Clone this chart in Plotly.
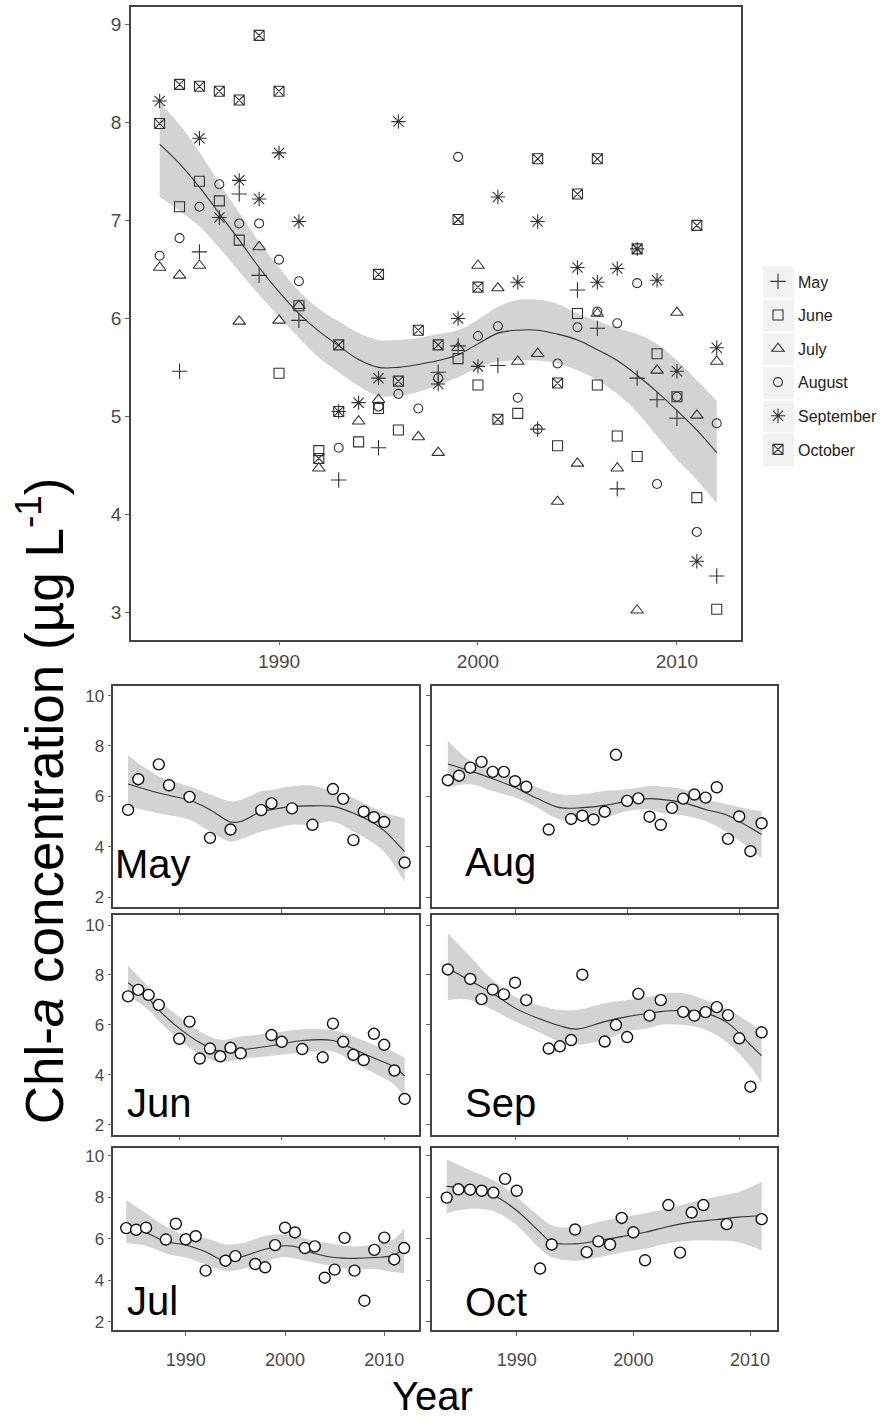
import plotly.graph_objects as go

# ---------------- monthly chlorophyll-a series ----------------
may_year = [1985, 1986, 1988, 1989, 1991, 1993, 1995, 1998, 1999, 2001, 2003, 2005, 2006, 2007, 2008, 2009, 2010, 2012]
may_chl = [5.46, 6.68, 7.27, 6.44, 5.98, 4.35, 4.68, 5.45, 5.72, 5.52, 4.87, 6.29, 5.90, 4.26, 5.39, 5.17, 4.98, 3.37]

jun_year = [1985, 1986, 1987, 1988, 1990, 1991, 1992, 1993, 1994, 1995, 1996, 1999, 2000, 2002, 2004, 2005, 2006, 2007, 2008, 2009, 2010, 2011, 2012]
jun_chl = [7.14, 7.40, 7.20, 6.80, 5.44, 6.13, 4.65, 5.05, 4.74, 5.08, 4.86, 5.59, 5.32, 5.03, 4.70, 6.05, 5.32, 4.80, 4.59, 5.64, 5.20, 4.17, 3.03]

jul_year = [1984, 1985, 1986, 1988, 1989, 1990, 1991, 1992, 1994, 1995, 1997, 1998, 1999, 2000, 2001, 2002, 2003, 2004, 2005, 2006, 2007, 2008, 2009, 2010, 2011, 2012]
jul_chl = [6.52, 6.44, 6.54, 5.97, 6.73, 5.98, 6.13, 4.47, 4.95, 5.17, 4.79, 4.63, 5.70, 6.54, 6.31, 5.56, 5.64, 4.13, 4.52, 6.05, 4.47, 3.02, 5.47, 6.06, 5.01, 5.56]

aug_year = [1984, 1985, 1986, 1987, 1988, 1989, 1990, 1991, 1993, 1995, 1996, 1997, 1998, 1999, 2000, 2001, 2002, 2003, 2004, 2005, 2006, 2007, 2008, 2009, 2010, 2011, 2012]
aug_chl = [6.64, 6.82, 7.14, 7.37, 6.97, 6.97, 6.60, 6.38, 4.68, 5.10, 5.23, 5.08, 5.39, 7.65, 5.82, 5.92, 5.19, 4.87, 5.54, 5.91, 6.07, 5.95, 6.36, 4.31, 5.20, 3.82, 4.93]

sep_year = [1984, 1986, 1987, 1988, 1989, 1990, 1991, 1993, 1994, 1995, 1996, 1998, 1999, 2000, 2001, 2002, 2003, 2005, 2006, 2007, 2008, 2009, 2010, 2011, 2012]
sep_chl = [8.22, 7.84, 7.03, 7.41, 7.22, 7.69, 6.99, 5.05, 5.14, 5.39, 8.01, 5.33, 6.00, 5.51, 7.24, 6.37, 6.99, 6.52, 6.37, 6.51, 6.71, 6.39, 5.46, 3.52, 5.70]

oct_year = [1984, 1985, 1986, 1987, 1988, 1989, 1990, 1992, 1993, 1995, 1996, 1997, 1998, 1999, 2000, 2001, 2003, 2004, 2005, 2006, 2008, 2011]
oct_chl = [7.99, 8.39, 8.37, 8.32, 8.23, 8.89, 8.32, 4.57, 5.73, 6.45, 5.36, 5.88, 5.73, 7.01, 6.32, 4.97, 7.63, 5.34, 7.27, 7.63, 6.71, 6.95]

# ---------------- smoothed trends with confidence bands ----------------
all_fit_year = [1984, 1985, 1986, 1987, 1988, 1989, 1990, 1991, 1992, 1993, 1994, 1995, 1996, 1997, 1998,
                1999, 2000, 2001, 2002, 2003, 2004, 2005, 2006, 2007, 2008, 2009, 2010, 2011, 2012]
all_fit = [7.78, 7.58, 7.34, 7.07, 6.80, 6.52, 6.27, 6.05, 5.87, 5.72, 5.58, 5.50, 5.50, 5.53, 5.57,
           5.63, 5.74, 5.85, 5.88, 5.88, 5.84, 5.78, 5.68, 5.57, 5.42, 5.25, 5.06, 4.86, 4.63]
all_lo = [7.24, 7.10, 6.94, 6.72, 6.48, 6.24, 6.02, 5.80, 5.60, 5.45, 5.31, 5.21, 5.21, 5.25, 5.32,
          5.40, 5.50, 5.56, 5.57, 5.57, 5.54, 5.47, 5.37, 5.23, 5.04, 4.80, 4.56, 4.35, 4.11]
all_hi = [8.20, 7.98, 7.70, 7.38, 7.08, 6.78, 6.52, 6.28, 6.10, 5.97, 5.85, 5.78, 5.78, 5.80, 5.84,
          5.88, 5.99, 6.12, 6.19, 6.19, 6.15, 6.05, 5.97, 5.90, 5.84, 5.74, 5.57, 5.37, 5.16]

may_fit_year = [1985, 1988, 1991, 1993, 1995, 1996, 1998, 1999, 2001, 2003, 2005, 2007, 2009, 2010, 2012]
may_fit = [6.49, 6.13, 5.84, 5.47, 4.98, 5.00, 5.40, 5.47, 5.60, 5.62, 5.60, 5.33, 4.93, 4.64, 3.80]
may_lo = [5.60, 5.33, 5.07, 4.60, 4.20, 4.30, 4.60, 4.70, 4.87, 4.87, 5.00, 4.60, 4.13, 3.80, 2.60]
may_hi = [7.63, 6.80, 6.40, 6.07, 5.80, 5.85, 6.20, 6.25, 6.40, 6.43, 6.20, 5.93, 5.53, 5.35, 5.13]

jun_fit_year = [1985, 1987, 1988, 1990, 1992, 1994, 1996, 1999, 2002, 2005, 2007, 2009, 2011, 2012]
jun_fit = [7.69, 7.05, 6.59, 5.86, 5.29, 4.93, 5.00, 5.16, 5.37, 5.37, 5.03, 4.67, 4.31, 3.94]
jun_lo = [7.18, 6.59, 6.15, 5.40, 4.80, 4.50, 4.63, 4.76, 4.89, 4.93, 4.50, 4.07, 3.60, 3.08]
jun_hi = [8.37, 7.51, 7.00, 6.32, 5.73, 5.40, 5.53, 5.66, 5.82, 5.79, 5.53, 5.20, 4.90, 4.67]

jul_fit_year = [1984, 1986, 1988, 1990, 1992, 1994, 1996, 1998, 2000, 2001, 2003, 2005, 2007, 2009, 2011, 2012]
jul_fit = [6.63, 6.30, 5.87, 5.71, 5.38, 4.94, 5.19, 5.50, 5.67, 5.63, 5.30, 5.10, 5.06, 5.10, 5.22, 5.62]
jul_lo = [5.79, 5.67, 5.30, 5.10, 4.78, 4.46, 4.58, 4.90, 5.14, 5.05, 4.85, 4.66, 4.55, 4.55, 4.40, 4.34]
jul_hi = [7.87, 7.23, 6.59, 6.19, 6.03, 5.74, 5.83, 6.15, 6.22, 6.15, 5.90, 5.74, 5.63, 5.74, 6.00, 6.51]

aug_fit_year = [1984, 1986, 1988, 1990, 1992, 1994, 1996, 1998, 2000, 2002, 2003, 2005, 2007, 2009, 2011, 2012]
aug_fit = [7.28, 7.01, 6.70, 6.35, 5.91, 5.55, 5.55, 5.64, 5.81, 5.91, 5.88, 5.75, 5.48, 5.24, 4.75, 4.48]
aug_lo = [6.35, 6.48, 6.21, 5.95, 5.55, 5.08, 5.08, 5.15, 5.42, 5.48, 5.35, 5.24, 5.02, 4.55, 3.89, 3.55]
aug_hi = [8.21, 7.41, 7.08, 6.74, 6.35, 6.08, 6.08, 6.21, 6.28, 6.41, 6.39, 6.28, 5.88, 5.68, 5.48, 5.42]

sep_fit_year = [1984, 1986, 1988, 1990, 1992, 1994, 1995.5, 1998, 2000, 2002, 2003, 2005, 2007, 2009, 2011, 2012]
sep_fit = [8.27, 7.77, 7.27, 6.67, 6.27, 5.96, 5.83, 6.13, 6.33, 6.47, 6.53, 6.57, 6.47, 6.07, 5.20, 4.76]
sep_lo = [7.00, 7.00, 6.60, 6.13, 5.73, 5.33, 5.20, 5.40, 5.73, 5.87, 6.00, 6.00, 5.80, 5.27, 4.33, 3.67]
sep_hi = [9.67, 8.73, 7.80, 7.13, 6.80, 6.60, 6.60, 6.87, 7.00, 7.13, 7.24, 7.27, 7.00, 6.60, 6.07, 5.73]

oct_fit_year = [1984, 1986, 1988, 1990, 1992, 1993, 1995, 1997, 1999, 2001, 2003, 2005, 2007, 2009, 2011]
oct_fit = [8.53, 8.42, 8.10, 7.37, 6.32, 5.84, 5.76, 5.92, 6.11, 6.32, 6.60, 6.81, 6.92, 7.05, 7.13]
oct_lo = [7.24, 7.45, 7.34, 6.65, 5.52, 5.11, 4.95, 5.11, 5.35, 5.52, 5.79, 5.92, 5.92, 5.84, 5.44]
oct_hi = [9.82, 9.31, 8.82, 8.02, 7.05, 6.65, 6.56, 6.81, 7.05, 7.24, 7.45, 7.77, 8.02, 8.26, 8.74]

month_names = ["May", "June", "July", "August", "September", "October"]
month_short = ["May", "Jun", "Jul", "Aug", "Sep", "Oct"]
year_ticks = [1990, 2000, 2010]

# ---------------- styling ----------------
W, H = 892, 1426
FONT = "Liberation Sans, Arial, sans-serif"
INK = "#333333"
TICK_INK = "#4a4a4a"
BAND = "#D3D3D3"

def xdom(left, right):
    return [left / W, right / W]

def ydom(top, bottom):
    return [1 - bottom / H, 1 - top / H]

series = {
    "May": (may_year, may_chl, may_fit_year, may_fit, may_lo, may_hi),
    "Jun": (jun_year, jun_chl, jun_fit_year, jun_fit, jun_lo, jun_hi),
    "Jul": (jul_year, jul_chl, jul_fit_year, jul_fit, jul_lo, jul_hi),
    "Aug": (aug_year, aug_chl, aug_fit_year, aug_fit, aug_lo, aug_hi),
    "Sep": (sep_year, sep_chl, sep_fit_year, sep_fit, sep_lo, sep_hi),
    "Oct": (oct_year, oct_chl, oct_fit_year, oct_fit, oct_lo, oct_hi),
}

symbols = {
    "May": ("cross-thin-open", 11),
    "Jun": ("square-open", 10),
    "Jul": ("triangle-up-open", 11),
    "Aug": ("circle-open", 9),
    "Sep": ("asterisk-open", 12),
    "Oct": ("square-x-open", 10),
}

fig = go.Figure()

def add_band(xa, ya, fx, lo, hi, fit):
    fig.add_trace(go.Scatter(x=fx, y=lo, mode="lines", line=dict(width=0, shape="spline"),
                             hoverinfo="skip", showlegend=False, xaxis=xa, yaxis=ya))
    fig.add_trace(go.Scatter(x=fx, y=hi, mode="lines", line=dict(width=0, shape="spline"),
                             fill="tonexty", fillcolor=BAND, hoverinfo="skip",
                             showlegend=False, xaxis=xa, yaxis=ya))
    fig.add_trace(go.Scatter(x=fx, y=fit, mode="lines",
                             line=dict(color=INK, width=1.1, shape="spline"),
                             hoverinfo="skip", showlegend=False, xaxis=xa, yaxis=ya))

# ---- pooled panel ----
add_band("x", "y", all_fit_year, all_lo, all_hi, all_fit)
for short, full in zip(month_short, month_names):
    yrs, vals = series[short][0], series[short][1]
    sym, size = symbols[short]
    fig.add_trace(go.Scatter(
        x=yrs, y=vals, mode="markers", name=full, legendgroup=full,
        marker=dict(symbol=sym, size=size, color=INK, line=dict(width=1.1, color=INK)),
        xaxis="x", yaxis="y"))

# ---- per-month panels ----
panel_order = ["May", "Aug", "Jun", "Sep", "Jul", "Oct"]
for i, short in enumerate(panel_order):
    n = i + 2
    xa, ya = f"x{n}", f"y{n}"
    yrs, vals, fx, fit, lo, hi = series[short]
    add_band(xa, ya, fx, lo, hi, fit)
    fig.add_trace(go.Scatter(
        x=yrs, y=vals, mode="markers", showlegend=False,
        marker=dict(symbol="circle", size=11, color="white", line=dict(width=1.4, color="#111111")),
        xaxis=xa, yaxis=ya))

axis_common = dict(showgrid=False, zeroline=False, showline=True, mirror=True,
                   linecolor="#444444", linewidth=1.6, ticks="outside", ticklen=4,
                   tickwidth=1, tickcolor="#666666")

layout = dict(
    width=W, height=H, margin=dict(l=0, r=0, t=0, b=0),
    paper_bgcolor="white", plot_bgcolor="white",
    font=dict(family=FONT, color=INK),
    showlegend=True,
    legend=dict(x=758 / W, y=1 - 264 / H, xanchor="left", yanchor="top",
                font=dict(family=FONT, size=16, color="#222222"),
                bgcolor="rgba(0,0,0,0)", tracegroupgap=9.8, itemsizing="trace"),
)

layout["xaxis"] = dict(axis_common, domain=xdom(131, 741), range=[1982.56, 2013.22],
                       tickvals=year_ticks, tickfont=dict(size=19, color=TICK_INK), anchor="y")
layout["yaxis"] = dict(axis_common, domain=ydom(6, 640), range=[2.72, 9.18],
                       tickvals=[3, 4, 5, 6, 7, 8, 9], tickfont=dict(size=19, color=TICK_INK), anchor="x")

left_col = (113.3, 419.0)
right_col = (431.7, 777.3)
rows = [(686, 908), (916, 1136), (1149, 1332)]
x_ranges = {
    "May": [1983.56, 2013.4], "Jun": [1983.56, 2013.4], "Jul": [1982.7, 2013.5],
    "Aug": [1982.56, 2013.4], "Sep": [1982.56, 2013.4], "Oct": [1982.71, 2012.34],
}

for i, short in enumerate(panel_order):
    n = i + 2
    row, col = divmod(i, 2)
    cx = left_col if col == 0 else right_col
    top, bottom = rows[row]
    bottom_row = row == 2
    layout[f"xaxis{n}"] = dict(axis_common, domain=xdom(*cx), range=x_ranges[short],
                               tickvals=year_ticks, showticklabels=bottom_row,
                               ticklabelstandoff=8,
                               tickfont=dict(size=18, color=TICK_INK), anchor=f"y{n}")
    layout[f"yaxis{n}"] = dict(axis_common, domain=ydom(top, bottom), range=[1.6, 10.4],
                               tickvals=[2, 4, 6, 8, 10], showticklabels=(col == 0),
                               tickfont=dict(size=17, color=TICK_INK), anchor=f"x{n}")

fig.update_layout(**layout)

# legend key backgrounds
shapes = []
key_centres = [282, 315.5, 349, 383, 416.5, 450]
for c in key_centres:
    shapes.append(dict(type="rect", xref="paper", yref="paper", layer="below",
                       x0=763 / W, x1=794 / W, y0=1 - (c + 16) / H, y1=1 - (c - 16) / H,
                       fillcolor="#F2F2F2", line=dict(width=0)))
fig.update_layout(shapes=shapes)

# panel tags and axis titles
tag_pos = {
    "May": (113, 879), "Aug": (463, 877), "Jun": (125, 1118),
    "Sep": (463, 1118), "Jul": (125, 1317), "Oct": (463, 1318),
}
annotations = []
for short, (lx, base) in tag_pos.items():
    annotations.append(dict(text=short, xref="paper", yref="paper", x=lx / W, y=1 - (base - 14) / H,
                            xanchor="left", yanchor="middle", showarrow=False,
                            font=dict(family=FONT, size=40, color="black")))
annotations.append(dict(text="Chl-<i>a</i> concentration (µg L<sup>-1</sup>)", xref="paper", yref="paper",
                        x=40 / W, y=1 - 802 / H, textangle=-90, showarrow=False,
                        xanchor="center", yanchor="middle",
                        font=dict(family=FONT, size=53, color="black")))
annotations.append(dict(text="Year", xref="paper", yref="paper", x=432 / W, y=1 - 1398 / H,
                        showarrow=False, xanchor="center", yanchor="middle",
                        font=dict(family=FONT, size=40, color="black")))
fig.update_layout(annotations=annotations)

fig.write_html("out.html")
